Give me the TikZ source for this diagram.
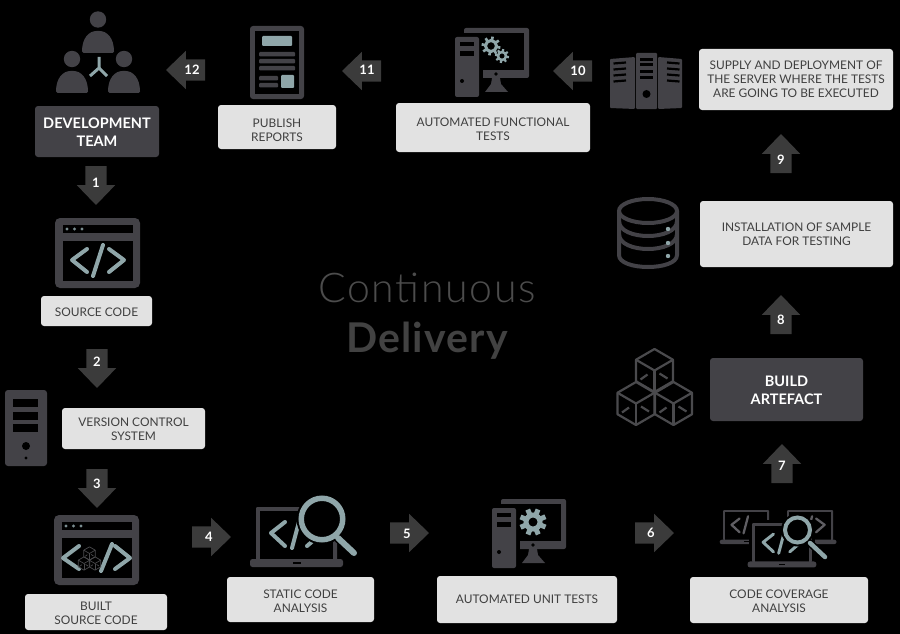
\documentclass[tikz,border=0pt]{standalone}
\usepackage{fontspec}
\usetikzlibrary{shapes.arrows}
\setmainfont{Lato}
\newfontface\lightface{Lato Light}[LetterSpace=4]
\newfontface\boldtitle{Lato Bold}[LetterSpace=3]
\definecolor{darkc}{HTML}{434247}
\definecolor{tealc}{HTML}{8FA6A9}
\definecolor{arrowc}{HTML}{3B3B3B}
\definecolor{lightc}{HTML}{E2E2E2}
\definecolor{inkc}{HTML}{404040}
\definecolor{titlec}{HTML}{424242}
\definecolor{titlelight}{HTML}{4C4C4C}
\definecolor{cubec}{HTML}{4A4A4D}
\newcommand\lifted[1]{\rule{0pt}{#1pt}}
\tikzset{
  lightbox/.style={rectangle,rounded corners=3pt,fill=lightc,text=inkc,align=center,inner sep=0pt,
    font=\fontsize{11.9}{14}\selectfont},
  darkbox/.style={rectangle,rounded corners=3pt,fill=darkc,text=white,align=center,inner sep=0pt,
    font=\fontsize{14.5}{18}\selectfont\bfseries},
  blockarrow/.style={single arrow,fill=arrowc,inner sep=0pt,outer sep=0pt,minimum height=39pt,
    single arrow head extend=8.5pt,single arrow tip angle=88,single arrow head indent=0pt,anchor=tip},
  numlabel/.style={text=white,inner sep=0pt,font=\fontsize{13}{13}\selectfont\bfseries},
  glyph/.style={line cap=round,line join=round}
}
\newcommand\personicon[3]{%
  \fill[darkc] (#1,#2) circle[radius=8.2];
  \fill[darkc,rounded corners=1.5pt] (#1-16,#3) .. controls (#1-16,#3-15) and (#1-9,#3-22) .. (#1,#3-22)
     .. controls (#1+9,#3-22) and (#1+16,#3-15) .. (#1+16,#3) -- cycle;}
\newcommand\windowicon[2]{%
  \begin{scope}[shift={(#1,#2)}]
    \fill[darkc,rounded corners=5pt] (0,0) rectangle (85,70);
    \fill[black] (8,7) rectangle (78,15);
    \fill[black] (8,23) rectangle (78,63);
    \foreach \dx in {12,19.5,27} \fill[tealc!85!black] (\dx,11) circle[radius=1.7];
  \end{scope}}
\newcommand\computericon[2]{%
  \begin{scope}[shift={(#1,#2)}]
    \fill[darkc,rounded corners=2pt] (9,-9) rectangle (74,41);
    \fill[black] (11,-4) rectangle (69,33);
    \fill[black] (-4,-4) rectangle (28,64);
    \fill[darkc,rounded corners=2pt] (0,0) rectangle (24,60);
    \fill[black] (5,5) rectangle (19,9);
    \fill[black] (5,14) rectangle (19,19);
    \fill[black] (7,44) circle[radius=2];
    \fill[black] (41,37) circle[radius=1.8];
    \fill[darkc] (37,41) -- (45,41) -- (46,47) -- (53,55) -- (30,55) -- (36,47) -- cycle;
  \end{scope}}
\newcommand\gearicon[7]{% x y ringr ringw toothouter toothw n
  \foreach \gi in {1,...,#7} \draw[tealc,line width=#6pt] ({#1+#3*cos(\gi*360/#7+10)},{#2+#3*sin(\gi*360/#7+10)}) -- ({#1+#5*cos(\gi*360/#7+10)},{#2+#5*sin(\gi*360/#7+10)});
  \draw[tealc,line width=#4pt] (#1,#2) circle[radius=#3];}
\newcommand\laptopicon[4]{%
  \begin{scope}[shift={(#1,#2)},scale=#3]
    \fill[darkc,rounded corners=1pt] (0,0) rectangle (81,53);
    \fill[black] (4,4) rectangle (77,53);
    \fill[darkc,rounded corners=2.5pt] (-6,52) rectangle (87,60);
    \fill[black] (37,55) rectangle (45,57);
    \draw[#4,glyph,line width=#3*4pt] (29,15) -- (15,26) -- (29,39);
    \draw[#4,glyph,line width=#3*4pt] (44,11) -- (36,41);
    \draw[#4,glyph,line width=#3*4pt] (51,15) -- (66,26) -- (51,39);
  \end{scope}}
\newcommand\lensicon[9]{% cx cy r ringw hx1 hy1 hx2 hy2 hw
  \fill[black] (#1,#2) circle[radius=#3+2];
  \draw[black,line width=#9pt+3pt,line cap=round] (#5,#6) -- (#7,#8);
  \draw[tealc,line width=#9pt,line cap=round] (#5,#6) -- (#7,#8);
  \draw[tealc,line width=#4pt] (#1,#2) circle[radius=#3-#4/2];}
\newcommand\isocube[4]{% cx cy s lw
  \begin{scope}[shift={(#1,#2)},scale=#3]
    \draw[cubec,line width=#4pt,line join=round] (0,-21.5) -- (18.5,-10.75) -- (18.5,10.75) -- (0,21.5) -- (-18.5,10.75) -- (-18.5,-10.75) -- cycle;
    \draw[cubec,line width=#4pt,line join=round] (-18.5,-10.75) -- (0,0) -- (18.5,-10.75);
    \draw[cubec,line width=#4pt] (0,0) -- (0,21.5);
    \draw[cubec,line width=#4pt] (-14,9) -- (-7,4);
    \draw[cubec,line width=#4pt] (5,3) -- (13,8);
  \end{scope}}
\begin{document}
\begin{tikzpicture}[x=1pt,y=-1pt]
\useasboundingbox (0,0) rectangle (900,634);
\fill[black] (0,0) rectangle (900,634);

% title
\node[anchor=base,text=titlelight,inner sep=0pt,font=\fontsize{41}{41}\selectfont\lightface] (title1) at (427,302) {Continuous};
\node[anchor=base,text=titlec,inner sep=0pt,font=\fontsize{41}{41}\selectfont\boldtitle] (title2) at (427,352) {Delivery};

% team icon
\personicon{98}{19.5}{53}
\personicon{72}{59}{93}
\personicon{124}{59}{93}
\draw[tealc,line width=3pt] (99,57) -- (99,68) -- (90,76);
\draw[tealc,line width=3pt] (99,68) -- (107,76);

% report icon
\fill[darkc,rounded corners=3pt] (250,26) rectangle (304,99);
\fill[black] (255,31) rectangle (299,94);
\fill[tealc,rounded corners=1pt] (262,36) rectangle (292,46);
\foreach \yy in {52,59,66} \fill[darkc,rounded corners=1pt] (259,\yy) rectangle (295,\yy+4.5);
\foreach \yy in {76,83} \fill[darkc,rounded corners=1pt] (259,\yy) rectangle (278,\yy+4.5);
\fill[tealc,rounded corners=1pt] (281,75) rectangle (294,88);

% functional tests icon
\computericon{455}{37}
\gearicon{491}{46}{5.5}{3}{9.5}{2.6}{8}
\gearicon{502}{56}{4}{2.5}{7}{2.2}{8}

% servers icon
\fill[darkc,rounded corners=1pt] (636,53) rectangle (657,109);
\fill[darkc,rounded corners=1pt] (610,59) -- (635,57) -- (635,109) -- (610,108) -- cycle;
\fill[darkc,rounded corners=1pt] (658,57) -- (682,59) -- (682,108) -- (658,109) -- cycle;
\foreach \yy in {58,63.5,70,76} \fill[black] (640,\yy) rectangle (653,\yy+3);
\fill[black] (646.5,94) circle[radius=4];
\foreach \yy in {0,1,2,3} {
  \draw[black,line width=2.2pt] (613.5,{63.5+\yy*6}) -- (626,{62.5+\yy*6});
  \draw[black,line width=2.2pt] (667,{62.5+\yy*6}) -- (679.5,{63.5+\yy*6});
}

% source code icon
\windowicon{55}{218}
\draw[tealc,glyph,line width=4pt] (87,249) -- (72,260) -- (87,272);
\draw[tealc,glyph,line width=4pt] (103,245) -- (93,276);
\draw[tealc,glyph,line width=4pt] (109,249) -- (124,260) -- (109,272);

% tower icon
\fill[darkc,rounded corners=3pt] (5,390) rectangle (47,466);
\fill[black] (13,399) rectangle (38,407);
\fill[black] (13,412) rectangle (38,420);
\fill[black] (13,424) rectangle (38,432);
\fill[black] (26,446) circle[radius=4];
\fill[black] (26,458) circle[radius=1.6];

% built source code icon
\windowicon{54}{515}
\draw[tealc,glyph,line width=4pt] (79,546) -- (63,558) -- (79,569);
\draw[tealc,glyph,line width=4pt] (112,544) -- (101,571);
\draw[tealc,glyph,line width=4pt] (115,546) -- (130,558) -- (115,569);
\isocube{89.5}{553.5}{0.31}{0.7}
\isocube{84}{563.5}{0.31}{0.7}
\isocube{95}{563.5}{0.31}{0.7}

% static analysis icon
\laptopicon{256}{507}{1}{tealc}
\lensicon{322}{519}{23.5}{5.5}{338}{538}{354}{553}{6}

% unit tests icon
\computericon{492}{508}
\foreach \gi in {1,...,8} \draw[tealc,line width=5pt] ({533+7*cos(\gi*45+22)},{522+7*sin(\gi*45+22)}) -- ({533+13.5*cos(\gi*45+22)},{522+13.5*sin(\gi*45+22)});
\draw[tealc,line width=5pt] (533,522) circle[radius=7];

% coverage icon
\laptopicon{723}{510}{0.57}{darkc!85!white}
\laptopicon{787}{510}{0.57}{darkc!85!white}
\fill[black] (749,514) rectangle (766,522);
\fill[black] (749,520) rectangle (815,564);
\fill[black] (745,559) rectangle (819,571);
\laptopicon{752}{523}{0.74}{tealc}
\lensicon{797.5}{530}{14.5}{4}{810}{543}{825}{557}{4.5}

% cubes icon
\isocube{654.5}{370.5}{1}{2.2}
\isocube{636}{403.5}{1}{2.2}
\isocube{673.5}{403.5}{1}{2.2}

% database icon
\draw[darkc,line width=4pt] (648,211) ellipse[x radius=29,y radius=12];
\draw[darkc,line width=4pt] (619,211) -- (619,255) .. controls (619,271) and (677,271) .. (677,255) -- (677,211);
\draw[darkc,line width=4pt] (619,221) .. controls (619,241) and (677,241) .. (677,221);
\draw[darkc,line width=4pt] (619,234) .. controls (619,254) and (677,254) .. (677,234);
\foreach \yy in {229,243,256} \fill[tealc] (668,\yy) circle[radius=2.2];

% boxes
\node[darkbox,minimum width=124pt,minimum height=51pt] (devteam) at (97,131.5) {\lifted{12.5}DEVELOPMENT\\TEAM};
\node[lightbox,minimum width=118pt,minimum height=44pt] (publish) at (277,127) {\lifted{14.8}PUBLISH\\REPORTS};
\node[lightbox,minimum width=194pt,minimum height=49pt] (functional) at (493,127.5) {\lifted{12.8}AUTOMATED FUNCTIONAL\\TESTS};
\node[lightbox,minimum width=194pt,minimum height=61pt] (supply) at (796,79.5) {SUPPLY AND DEPLOYMENT OF\\THE SERVER WHERE THE TESTS\\ARE GOING TO BE EXECUTED};
\node[lightbox,minimum width=193pt,minimum height=66pt] (install) at (796.5,234) {INSTALLATION OF SAMPLE\\DATA FOR TESTING};
\node[darkbox,minimum width=153pt,minimum height=63pt] (artefact) at (786.5,389.5) {\lifted{12.5}BUILD\\ARTEFACT};
\node[lightbox,minimum width=111pt,minimum height=30pt] (source) at (96.5,311) {\lifted{10.8}SOURCE CODE};
\node[lightbox,minimum width=143pt,minimum height=41pt] (version) at (133.5,428.5) {\lifted{10.8}VERSION CONTROL\\SYSTEM};
\node[lightbox,minimum width=142pt,minimum height=36pt] (built) at (96,612) {\lifted{11.8}BUILT\\SOURCE CODE};
\node[lightbox,minimum width=147pt,minimum height=45pt] (static) at (300.5,599.5) {\lifted{12.8}STATIC CODE\\ANALYSIS};
\node[lightbox,minimum width=180pt,minimum height=47pt] (unit) at (527,599.5) {AUTOMATED UNIT TESTS};
\node[lightbox,minimum width=178pt,minimum height=46pt] (coverage) at (779,600) {\lifted{10.8}CODE COVERAGE\\ANALYSIS};

% numbered arrows
\node[blockarrow,shape border rotate=270] (a1) at (96,205) {\rule{21pt}{0pt}};
\node[numlabel] (n1) at (96,183) {1};
\node[blockarrow,shape border rotate=270] (a2) at (97,388) {\rule{21pt}{0pt}};
\node[numlabel] (n2) at (97,362) {2};
\node[blockarrow,shape border rotate=270] (a3) at (97,508) {\rule{21pt}{0pt}};
\node[numlabel] (n3) at (97,484) {3};
\node[blockarrow,shape border rotate=0] (a4) at (231,537) {\rule{0pt}{21pt}};
\node[numlabel] (n4) at (209,537) {4};
\node[blockarrow,shape border rotate=0] (a5) at (429,533) {\rule{0pt}{21pt}};
\node[numlabel] (n5) at (407,534) {5};
\node[blockarrow,shape border rotate=0] (a6) at (674,533) {\rule{0pt}{21pt}};
\node[numlabel] (n6) at (651,533) {6};
\node[blockarrow,shape border rotate=90] (a7) at (782,444) {\rule{21pt}{0pt}};
\node[numlabel] (n7) at (782,466) {7};
\node[blockarrow,shape border rotate=90] (a8) at (781,295) {\rule{21pt}{0pt}};
\node[numlabel] (n8) at (781,320) {8};
\node[blockarrow,shape border rotate=90] (a9) at (781,134) {\rule{21pt}{0pt}};
\node[numlabel] (n9) at (781,160) {9};
\node[blockarrow,shape border rotate=180] (a10) at (553,71) {\rule{0pt}{21pt}};
\node[numlabel] (n10) at (578,71) {10};
\node[blockarrow,shape border rotate=180] (a11) at (342,71) {\rule{0pt}{21pt}};
\node[numlabel] (n11) at (367,70) {11};
\node[blockarrow,shape border rotate=180] (a12) at (166,70) {\rule{0pt}{21pt}};
\node[numlabel] (n12) at (192,70) {12};
\end{tikzpicture}
\end{document}
